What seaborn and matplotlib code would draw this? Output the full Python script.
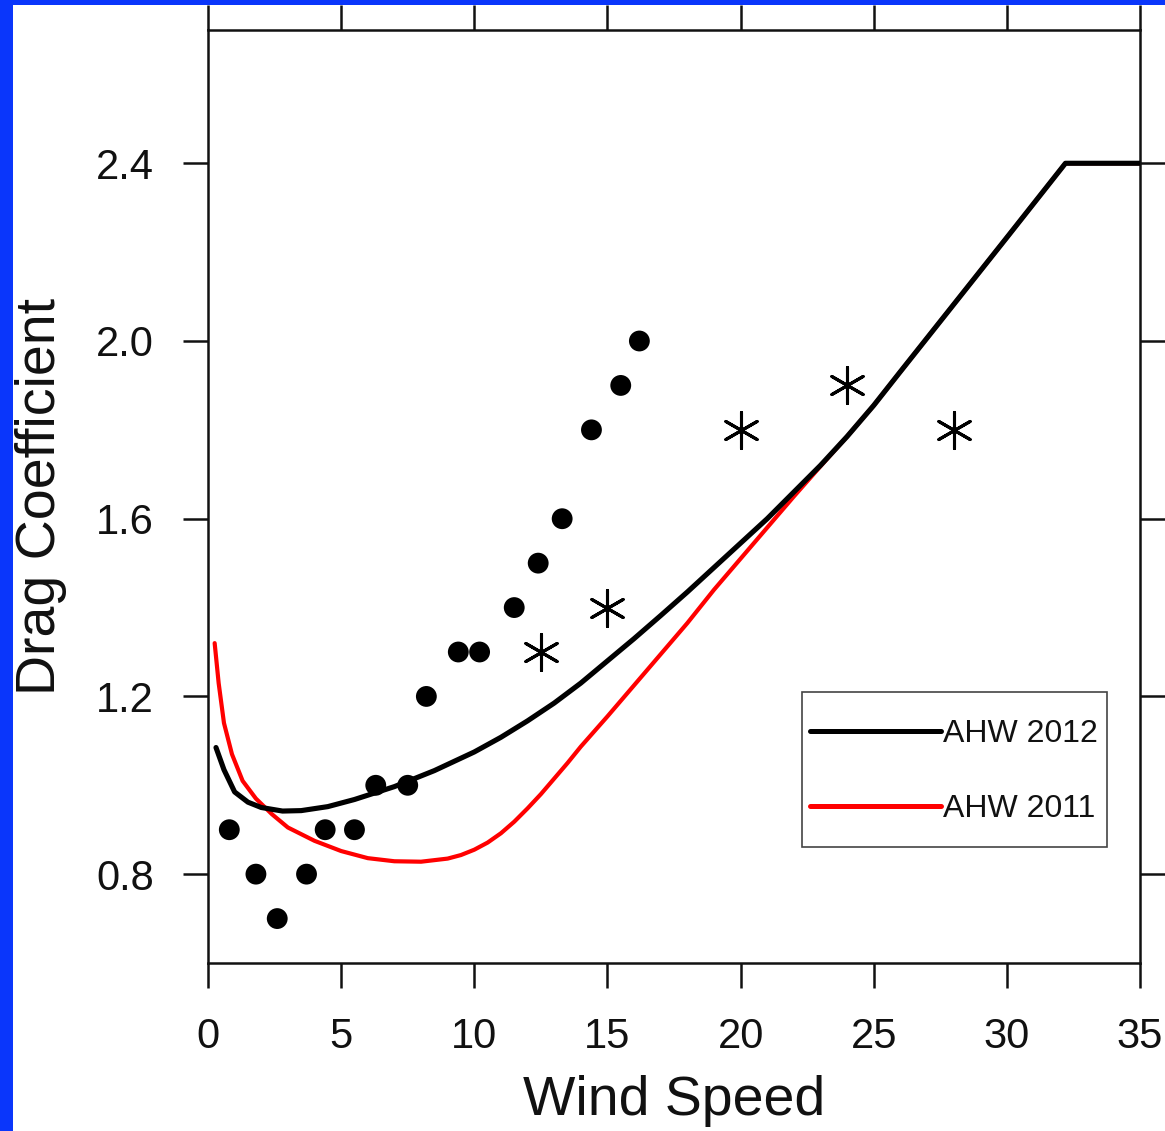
import matplotlib
matplotlib.use("Agg")
import matplotlib.pyplot as plt
from matplotlib.patches import Rectangle
import seaborn as sns
import pandas as pd

# ---- data ----
ws_2012 = [0.3, 0.6, 1.0, 1.5, 2.0, 2.8, 3.5, 4.5, 5.5, 7.0, 8.5, 10.0, 11.0, 12.0,
           13.0, 14.0, 15.0, 16.0, 17.0, 18.0, 19.0, 20.0, 21.0, 22.0, 23.0, 24.0,
           25.0, 26.0, 28.0, 30.0, 32.2, 35.0]
cd_2012 = [1.085, 1.035, 0.985, 0.962, 0.950, 0.942, 0.943, 0.952, 0.968, 0.997, 1.033,
           1.075, 1.108, 1.145, 1.185, 1.230, 1.280, 1.330, 1.382, 1.435, 1.490, 1.545,
           1.600, 1.660, 1.720, 1.785, 1.855, 1.931, 2.082, 2.233, 2.400, 2.400]

ws_2011 = [0.25, 0.4, 0.6, 0.9, 1.3, 1.8, 2.4, 3.0, 4.0, 5.0, 6.0, 7.0, 8.0, 9.0,
           9.5, 10.0, 10.5, 11.0, 11.5, 12.0, 12.5, 13.0, 13.5, 14.0, 15.0, 16.0, 17.0,
           18.0, 19.0, 20.0, 21.0, 22.0, 23.0, 24.0, 25.0, 26.0, 28.0, 30.0, 32.2, 35.0]
cd_2011 = [1.32, 1.23, 1.14, 1.07, 1.01, 0.97, 0.935, 0.905, 0.875, 0.852, 0.836,
           0.829, 0.828, 0.835, 0.843, 0.855, 0.871, 0.892, 0.918, 0.948, 0.980, 1.015,
           1.050, 1.087, 1.155, 1.225, 1.295, 1.365, 1.440, 1.510, 1.580, 1.650, 1.718,
           1.785, 1.855, 1.931, 2.082, 2.233, 2.400, 2.400]

obs_ws = [0.8, 1.8, 2.6, 3.7, 4.4, 5.5, 6.3, 7.5, 8.2, 9.4, 10.2, 11.5, 12.4, 13.3,
          14.4, 15.5, 16.2]
obs_cd = [0.9, 0.8, 0.7, 0.8, 0.9, 0.9, 1.0, 1.0, 1.2, 1.3, 1.3, 1.4, 1.5, 1.6,
          1.8, 1.9, 2.0]

star_ws = [12.5, 15.0, 20.0, 24.0, 28.0]
star_cd = [1.3, 1.4, 1.8, 1.9, 1.8]

x_ticks = [0, 5, 10, 15, 20, 25, 30, 35]
y_ticks = [0.8, 1.2, 1.6, 2.0, 2.4]
series_labels = ["AHW 2012", "AHW 2011"]

# ---- styling ----
sns.set_theme(style="ticks")
plt.rcParams["font.family"] = ["Liberation Sans", "DejaVu Sans"]

W, H = 1165, 1131
fig = plt.figure(figsize=(W / 100, H / 100), dpi=100)
fig.patch.set_facecolor("#0a36fb")
fig.patches.append(Rectangle((13 / W, 0), 1, (H - 5) / H, transform=fig.transFigure,
                             facecolor="white", edgecolor="none", zorder=-5))

ax = fig.add_axes([208 / W, (H - 963) / H, 932 / W, 933 / H])
ax.set_facecolor("white")

df12 = pd.DataFrame({"ws": ws_2012, "cd": cd_2012})
df11 = pd.DataFrame({"ws": ws_2011, "cd": cd_2011})
dfo = pd.DataFrame({"ws": obs_ws, "cd": obs_cd})
dfs = pd.DataFrame({"ws": star_ws, "cd": star_cd})

sns.lineplot(data=df11, x="ws", y="cd", ax=ax, color="#ff0000", lw=3.0,
             estimator=None, sort=False, label=series_labels[1], zorder=3)
sns.lineplot(data=df12, x="ws", y="cd", ax=ax, color="black", lw=3.7,
             estimator=None, sort=False, label=series_labels[0], zorder=4)
sns.scatterplot(data=dfo, x="ws", y="cd", ax=ax, color="black", s=15 ** 2,
                edgecolor="none", zorder=5, legend=False)
sns.scatterplot(data=dfs, x="ws", y="cd", ax=ax, color="black", marker=(6, 2, 0),
                s=26 ** 2, linewidth=2.2, zorder=5, legend=False)

ax.set_xlim(0, 35)
ax.set_ylim(0.6, 2.7)
ax.set_xticks(x_ticks)
ax.set_yticks(y_ticks)
ax.set_xticklabels([str(t) for t in x_ticks])
ax.set_yticklabels([f"{t:.1f}" for t in y_ticks])
ax.tick_params(axis="both", which="major", direction="out", length=18, width=1.8,
               color="#111111", labelsize=30, pad=21, labelcolor="#111111")
ax.tick_params(top=True, right=True, labeltop=False, labelright=False)
ax.minorticks_off()
for sp in ax.spines.values():
    sp.set_visible(True)
    sp.set_linewidth(1.8)
    sp.set_color("#111111")

ax.set_xlabel("Wind Speed", fontsize=40, labelpad=13, color="#111111")
ax.set_ylabel("Drag Coefficient", fontsize=40, labelpad=21, color="#111111")

# legend: line handles + text, framed by a plain box
handles, labels = ax.get_legend_handles_labels()
order = [labels.index(series_labels[0]), labels.index(series_labels[1])]
leg = ax.legend([handles[i] for i in order], [labels[i] for i in order],
                loc="center left", bbox_to_anchor=(0.629, 0.205), frameon=False,
                borderpad=0, handlelength=4.1, handletextpad=0.05, labelspacing=1.4,
                fontsize=23)
for t in leg.get_texts():
    t.set_color("#111111")
for ln in leg.get_lines():
    ln.set_linewidth(3.6)
ax.add_patch(Rectangle((0.637, 0.124), 0.328, 0.166, transform=ax.transAxes,
                       facecolor="none", edgecolor="#444444", lw=1.2, zorder=6))

fig.savefig("out.png", dpi=100, facecolor=fig.get_facecolor())
